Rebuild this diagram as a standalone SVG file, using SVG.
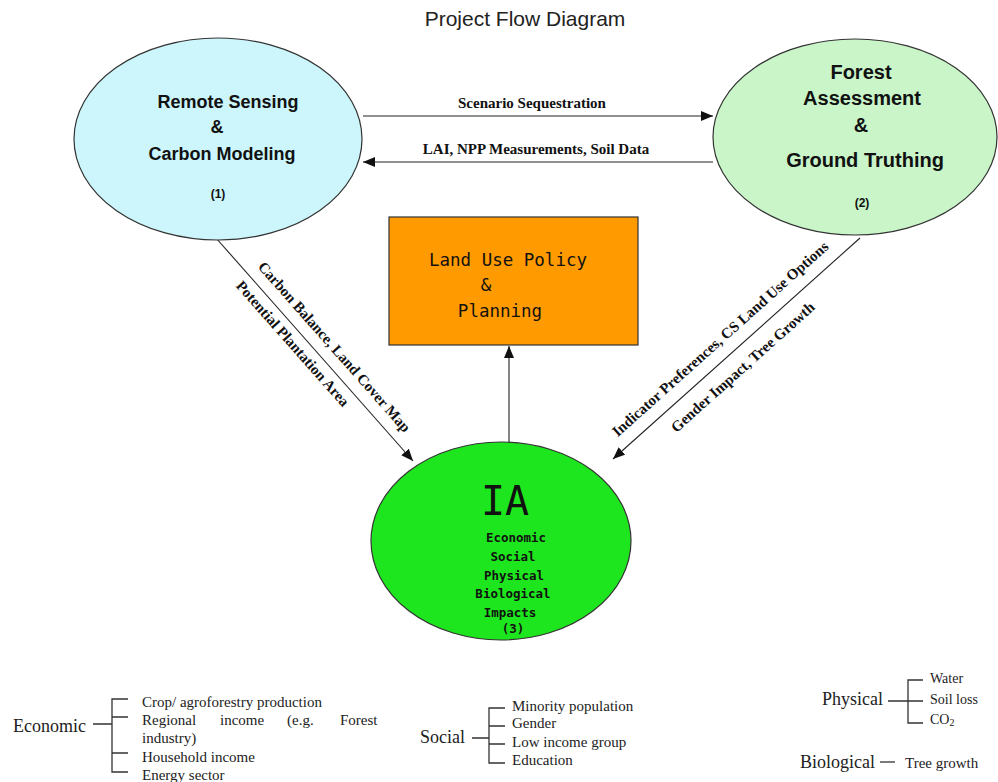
<svg xmlns="http://www.w3.org/2000/svg" width="998" height="782" viewBox="0 0 998 782">
<style>
.node{stroke:#333;stroke-width:1.2}
.hd{font-family:"Liberation Sans",Arial,sans-serif;font-weight:bold;fill:#111;text-anchor:middle}
.lbl{font-family:"Liberation Serif","Times New Roman",serif;font-weight:bold;font-size:15px;fill:#111;text-anchor:middle}
.mono{font-family:"DejaVu Sans Mono","Liberation Mono",monospace;fill:#111;text-anchor:middle}
.conn{stroke:#222;stroke-width:1.1;fill:none}
.leg{font-family:"Liberation Serif","Times New Roman",serif;fill:#222}
.br{stroke:#333;stroke-width:1.3;fill:none}
</style>
<defs>
<marker id="ah" viewBox="0 0 12 10" refX="12" refY="5" markerWidth="12" markerHeight="10" markerUnits="userSpaceOnUse" orient="auto">
<path d="M0,0 L12,5 L0,10 Z" fill="#111"/>
</marker>
</defs>
<rect width="998" height="782" fill="#fff"/>
<text x="525" y="26" font-family="Liberation Sans,Arial,sans-serif" font-size="21" fill="#222" text-anchor="middle">Project Flow Diagram</text>

<g id="connectors">
<line class="conn" x1="363" y1="116" x2="713" y2="116" marker-end="url(#ah)"/>
<line class="conn" x1="713" y1="162" x2="363" y2="162" marker-end="url(#ah)"/>
<line class="conn" x1="216" y1="238" x2="413" y2="461" marker-end="url(#ah)"/>
<line class="conn" x1="860" y1="238" x2="613" y2="459" marker-end="url(#ah)"/>
<line class="conn" x1="509" y1="443" x2="509" y2="346" marker-end="url(#ah)"/>
<text class="lbl" x="532" y="108">Scenario Sequestration</text>
<text class="lbl" x="536" y="154">LAI, NPP Measurements, Soil Data</text>
<g transform="translate(216,238) rotate(48.5)">
<text class="lbl" x="160" y="-11.5" font-size="15.5">Carbon Balance, Land Cover Map</text>
<text class="lbl" x="130" y="17.5" font-size="15.5">Potential Plantation Area</text>
</g>
<g transform="translate(613,459) rotate(-41.8)">
<text class="lbl" x="160" y="-13" font-size="15.5">Indicator Preferences, CS Land Use Options</text>
<text class="lbl" x="158" y="23" font-size="15.5">Gender Impact, Tree Growth</text>
</g>
</g>

<g id="node-remote-sensing">
<ellipse class="node" cx="218" cy="139" rx="144" ry="101" fill="#ccf6fb"/>
<text class="hd" x="228" y="108" font-size="18">Remote Sensing</text>
<text class="hd" x="217" y="133" font-size="18">&amp;</text>
<text class="hd" x="222" y="160" font-size="18">Carbon Modeling</text>
<text class="hd" x="218" y="198" font-size="12">(1)</text>
</g>

<g id="node-forest">
<ellipse class="node" cx="855" cy="137" rx="142" ry="98" fill="#c9f5c9"/>
<text class="hd" x="861" y="79" font-size="20">Forest</text>
<text class="hd" x="862" y="105" font-size="20">Assessment</text>
<text class="hd" x="861" y="132" font-size="20">&amp;</text>
<text class="hd" x="865" y="167" font-size="20">Ground Truthing</text>
<text class="hd" x="862" y="207" font-size="12">(2)</text>
</g>

<g id="node-land-use">
<rect class="node" x="389" y="217" width="249" height="128" fill="#ff9a00"/>
<text class="mono" x="508" y="266" font-size="17.5">Land Use Policy</text>
<text class="mono" x="486" y="291" font-size="17.5">&amp;</text>
<text class="mono" x="500" y="317" font-size="17.5">Planning</text>
</g>

<g id="node-ia">
<ellipse class="node" cx="501" cy="541" rx="130" ry="99" fill="#1ee61e"/>
<text class="mono" x="505" y="515" font-size="40">IA</text>
<text class="mono" x="516" y="542" font-size="12.5" font-weight="bold">Economic</text>
<text class="mono" x="513" y="561" font-size="12.5" font-weight="bold">Social</text>
<text class="mono" x="514" y="580" font-size="12.5" font-weight="bold">Physical</text>
<text class="mono" x="513" y="598" font-size="12.5" font-weight="bold">Biological</text>
<text class="mono" x="510" y="617" font-size="12.5" font-weight="bold">Impacts</text>
<text class="mono" x="513" y="633" font-size="12.5" font-weight="bold">(3)</text>
</g>

<g id="legend-economic">
<text class="leg" x="13" y="732" font-size="18">Economic</text>
<path class="br" d="M93,724 H112 M128,699 H112 V772 H128 M112,717 H128 M112,753 H128"/>
<text class="leg" x="142" y="707" font-size="15">Crop/ agroforestry production</text>
<text class="leg" y="725" font-size="15"><tspan x="142">Regional</tspan><tspan x="220">income</tspan><tspan x="287">(e.g.</tspan><tspan x="340">Forest</tspan></text>
<text class="leg" x="142" y="743" font-size="15">industry)</text>
<text class="leg" x="142" y="762" font-size="15">Household income</text>
<text class="leg" x="142" y="780" font-size="15">Energy sector</text>
</g>

<g id="legend-social">
<text class="leg" x="420" y="743" font-size="18">Social</text>
<path class="br" d="M472,738 H489 M505,708 H489 V763 H505 M489,726 H505 M489,744 H505"/>
<text class="leg" x="512" y="711" font-size="15">Minority population</text>
<text class="leg" x="512" y="728" font-size="15">Gender</text>
<text class="leg" x="512" y="747" font-size="15">Low income group</text>
<text class="leg" x="512" y="765" font-size="15">Education</text>
</g>

<g id="legend-physical">
<text class="leg" x="822" y="705" font-size="18">Physical</text>
<path class="br" d="M888,701 H923 M923,680 H908 V723 H923"/>
<text class="leg" x="930" y="683" font-size="14">Water</text>
<text class="leg" x="930" y="704" font-size="14">Soil loss</text>
<text class="leg" x="930" y="724" font-size="14">CO<tspan font-size="10" dy="2">2</tspan></text>
</g>

<g id="legend-biological">
<text class="leg" x="800" y="768" font-size="18">Biological</text>
<path class="br" d="M880,762 H895"/>
<text class="leg" x="905" y="768" font-size="15">Tree growth</text>
</g>
</svg>
